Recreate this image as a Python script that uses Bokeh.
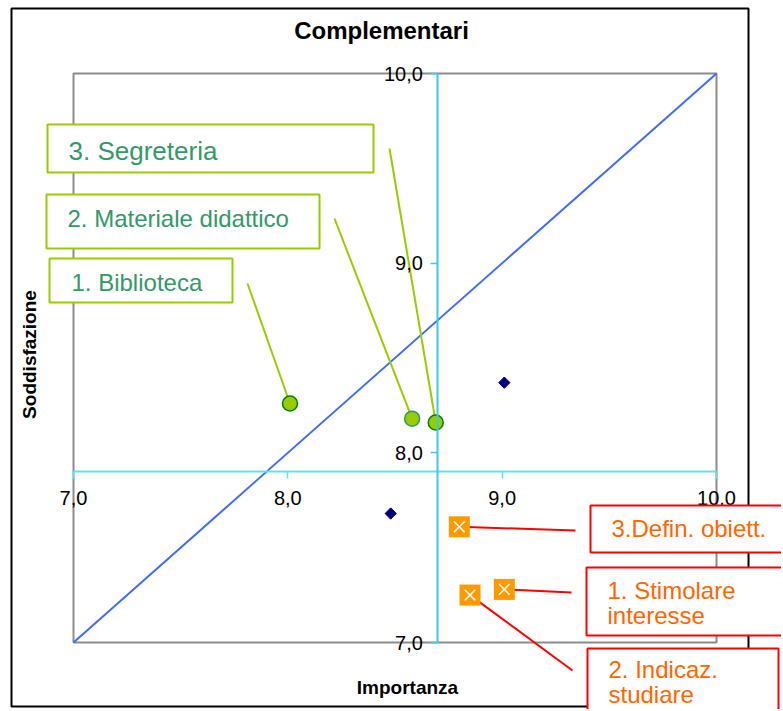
import numpy as np
from bokeh.plotting import figure
from bokeh.models import Range1d, LinearAxis, FixedTicker, ColumnDataSource, CustomJSTickFormatter
from bokeh.core.properties import value
from bokeh.embed import file_html
from bokeh.resources import INLINE

# ---------------- data ----------------
title_text = "Complementari"
x_title = "Importanza"
y_title = "Soddisfazione"

x_ticks = [7, 8, 9, 10]
x_tick_labels = ["7,0", "8,0", "9,0", "10,0"]
y_ticks = [7, 8, 9, 10]
y_tick_labels = ["7,0", "8,0", "9,0", "10,0"]
axis_cross_x = 8.7   # where the vertical axis crosses
axis_cross_y = 7.9   # where the horizontal axis crosses

green_labels = ["1. Biblioteca", "2. Materiale didattico", "3. Segreteria"]
green_x = [8.01, 8.58, 8.69]
green_y = [8.26, 8.18, 8.16]

navy_x = [9.01, 8.48]
navy_y = [8.37, 7.68]

orange_labels = ["1. Stimolare\ninteresse", "2. Indicaz.\nstudiare", "3.Defin. obiett."]
orange_x = [9.01, 8.85, 8.80]
orange_y = [7.28, 7.25, 7.61]

diag_x = [7, 10]
diag_y = [7, 10]

# ---------------- layout (page pixels -> data) ----------------
FIG_W, FIG_H = 781, 709
OFF = 0
XS = 3 / 643.0
YS = 3 / 569.0
x_lo = 7 - (73 - OFF) * XS
x_hi = x_lo + FIG_W * XS
y_hi = 10 + (73 - OFF) * YS
y_lo = y_hi - FIG_H * YS

def X(px):
    return x_lo + (px - OFF) * XS

def Y(py):
    return y_hi - (py - OFF) * YS

FONT = "Liberation Sans"
TXT_SHIFT = -9   # baseline correction

p = figure(width=FIG_W, height=FIG_H, x_range=Range1d(x_lo, x_hi), y_range=Range1d(y_lo, y_hi),
           output_backend="svg", toolbar_location=None, min_border=0,
           x_axis_type=None, y_axis_type=None, outline_line_color=None,
           background_fill_color="white", border_fill_color="white")
p.xgrid.visible = False
p.ygrid.visible = False

# outer black border
p.quad(left=[X(11)], right=[X(748)], top=[Y(8)], bottom=[Y(706)],
       fill_color=None, line_color="black", line_width=2)
# gray plot area
p.quad(left=[7], right=[10], bottom=[7], top=[10], fill_color=None,
       line_color="#8c8c8c", line_width=2)

def fmt(tvals, tlabs):
    return CustomJSTickFormatter(args=dict(tvals=tvals, tlabs=tlabs), code="""
        const i = tvals.findIndex(t => Math.abs(t - tick) < 1e-9);
        return i >= 0 ? tlabs[i] : '';
    """)

xa = LinearAxis(fixed_location=axis_cross_y, bounds=(7, 10), ticker=FixedTicker(ticks=x_ticks),
                formatter=fmt(x_ticks, x_tick_labels),
                axis_line_color="#5ee4f0", axis_line_width=2,
                major_tick_line_color="#5ee4f0", major_tick_line_width=1.5,
                major_tick_in=0, major_tick_out=7, minor_tick_line_color=None,
                major_label_standoff=12, major_label_text_font=FONT,
                major_label_text_font_size="20px", major_label_text_color="black")
ya = LinearAxis(fixed_location=axis_cross_x, bounds=(7, 10), ticker=FixedTicker(ticks=y_ticks),
                formatter=fmt(y_ticks, y_tick_labels),
                axis_line_color="#3cc8f0", axis_line_width=2,
                major_tick_line_color="#3cc8f0", major_tick_line_width=1.5,
                major_tick_in=0, major_tick_out=7, minor_tick_line_color=None,
                major_label_standoff=8, major_label_text_font=FONT,
                major_label_text_font_size="20px", major_label_text_color="black")
p.add_layout(xa, "below")
p.add_layout(ya, "left")

# diagonal
p.line(diag_x, diag_y, line_color="#3f6cf5", line_width=2)

# ---- green series with labels ----
g_box_px = [(49, 232, 258, 302), (46, 319, 194, 248), (47, 373, 124, 172)]
g_text_px = [(71, 291), (67, 227), (68, 159)]
g_lead_px = [(247, 283), (334, 218), (389, 148)]
g_font = ["24px", "24px", "26px"]

p.segment(x0=[X(a) for a, b in g_lead_px], y0=[Y(b) for a, b in g_lead_px],
          x1=green_x, y1=green_y, line_color="#99cc00", line_width=2)
p.scatter(green_x, green_y, marker="circle", size=15, fill_color="#99cc00",
          line_color=["#008000", "#339966", "#008000"], line_width=1.5)

gb = p.quad(left=[X(b[0]) for b in g_box_px], right=[X(b[1]) for b in g_box_px],
            top=[Y(b[2]) for b in g_box_px], bottom=[Y(b[3]) for b in g_box_px],
            fill_color="white", line_color="#99cc00", line_width=2)
gb.level = "annotation"
gsrc = ColumnDataSource(dict(x=[X(a) for a, b in g_text_px],
                             y=[Y(b + TXT_SHIFT) for a, b in g_text_px],
                             t=green_labels, fs=g_font))
gt = p.text(x="x", y="y", text="t", source=gsrc, text_font=value(FONT), text_font_size="fs",
            text_color="#339966", text_align="left", text_baseline="alphabetic")
gt.level = "annotation"

# ---- navy diamonds ----
p.scatter(navy_x, navy_y, marker="square", size=8, angle=np.pi / 4,
          fill_color="#000080", line_color="#000080")

# ---- orange series with labels ----
o_box_px = [(586, 782, 567, 635), (587, 778, 648, 720), (590, 800, 505, 552)]
o_text_px = [(607, 599), (608, 678), (611, 537)]
o_lead_px = [(571, 592), (572, 670), (575, 530)]
LINE_H = 25

p.segment(x0=[X(a) for a, b in o_lead_px], y0=[Y(b) for a, b in o_lead_px],
          x1=orange_x, y1=orange_y, line_color="#ff0000", line_width=2)
p.scatter(orange_x, orange_y, marker="square", size=21, fill_color="#ff9900", line_color=None)
p.scatter(orange_x, orange_y, marker="x", size=15, line_color="white", line_width=1.5)

ob = p.quad(left=[X(b[0]) for b in o_box_px], right=[X(b[1]) for b in o_box_px],
            top=[Y(b[2]) for b in o_box_px], bottom=[Y(b[3]) for b in o_box_px],
            fill_color="white", line_color="#ff0000", line_width=2)
ob.level = "annotation"
ox, oy, ot = [], [], []
for lab, (tx, ty) in zip(orange_labels, o_text_px):
    for i, line in enumerate(lab.split("\n")):
        ox.append(X(tx))
        oy.append(Y(ty + TXT_SHIFT + i * LINE_H))
        ot.append(line)
ot_r = p.text(x=ox, y=oy, text=ot, text_font=value(FONT), text_font_size=value("24px"),
              text_color="#ff6600", text_align="left", text_baseline="alphabetic")
ot_r.level = "annotation"

# ---- titles ----
p.text(x=[X(381)], y=[Y(30)], text=[title_text], text_font=value(FONT), text_font_size=value("24px"),
       text_font_style="bold", text_color="black", text_align="center", text_baseline="middle")
p.text(x=[X(407)], y=[Y(687)], text=[x_title], text_font=value(FONT), text_font_size=value("19px"),
       text_font_style="bold", text_color="black", text_align="center", text_baseline="middle")
p.text(x=[X(29)], y=[Y(354)], text=[y_title], text_font=value(FONT), text_font_size=value("19px"),
       text_font_style="bold", text_color="black", text_align="center", text_baseline="middle",
       angle=np.pi / 2)

open("out.html", "w").write(file_html(p, INLINE))
